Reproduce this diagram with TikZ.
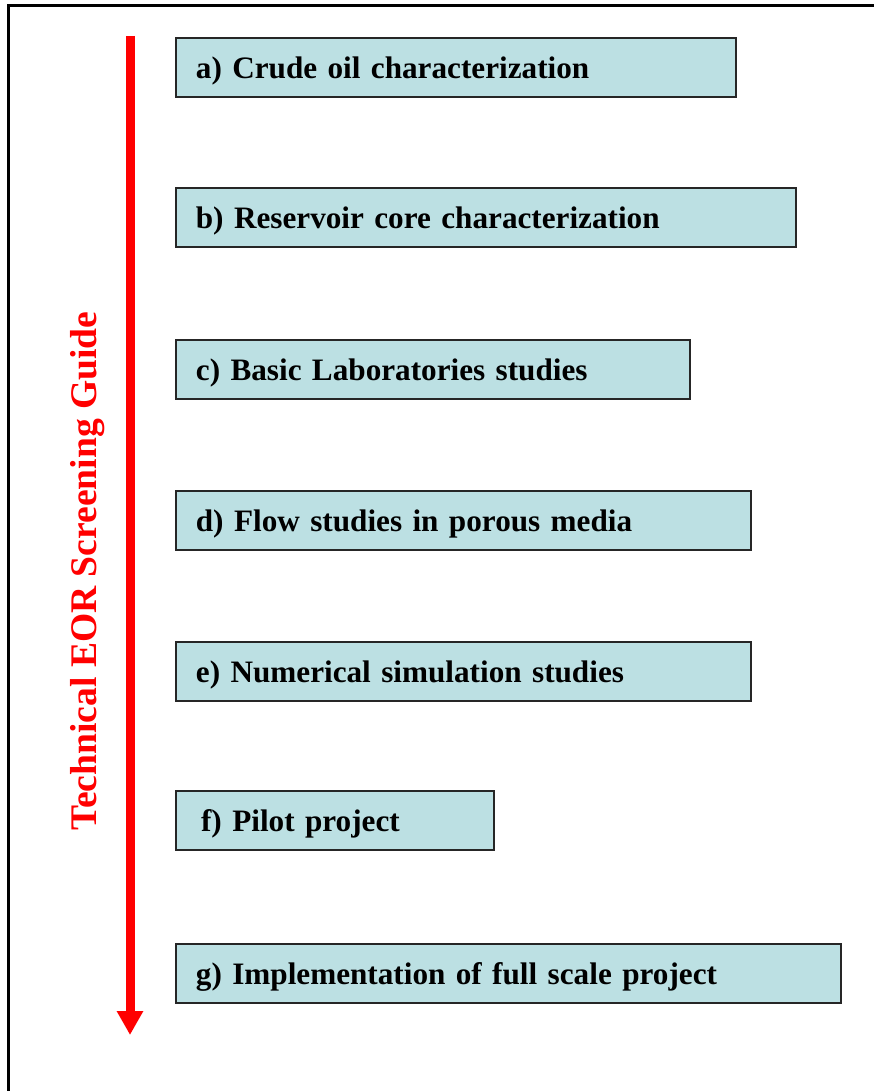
\documentclass[tikz,border=0pt]{standalone}
\usepackage{fontspec}
\setmainfont{Liberation Serif}
\usetikzlibrary{arrows.meta}
\definecolor{stepblue}{RGB}{188,224,227}

\begin{document}
\begin{tikzpicture}[
    x=0.5pt, y=-0.5pt,
    stepbox/.style={draw=black!85, line width=0.9pt, fill=stepblue,
                    anchor=north west, minimum height=29.5pt,
                    inner xsep=10pt, align=left, text depth=0pt,
                    font=\fontsize{15.6}{18}\selectfont\bfseries},
    flowarrow/.style={-{Triangle[width=12.5pt,length=12pt]}, red,
                      line width=4.5pt},
  ]
  \useasboundingbox (0,0) rectangle (874,1091);
  % open frame, cut at right and bottom
  \draw[line width=1.5pt] (8.5,1091) -- (8.5,6) -- (874,6);

  \node[stepbox, text width=260pt] (crude) at (175,37)  {a) Crude oil characterization};
  \node[stepbox, text width=290pt] (core)  at (175,187) {b) Reservoir core characterization};
  \node[stepbox, text width=237pt] (lab)   at (175,339) {c) Basic Laboratories studies};
  \node[stepbox, text width=267.5pt] (flow) at (175,490) {d) Flow studies in porous media};
  \node[stepbox, text width=267.5pt] (sim)  at (175,641) {e) Numerical simulation studies};
  \node[stepbox, text width=139pt] (pilot) at (175,790) {\,f) Pilot project};
  \node[stepbox, text width=312.5pt] (full) at (175,943) {g) Implementation of full scale project};

  \coordinate (start) at (130,36);
  \coordinate (stop)  at (130,1035);
  \draw[flowarrow] (start) -- (stop);
  \node[rotate=90, red, font=\fontsize{18.8}{22}\selectfont\bfseries] (guide)
    at (88,571) {Technical EOR Screening Guide};
\end{tikzpicture}
\end{document}
